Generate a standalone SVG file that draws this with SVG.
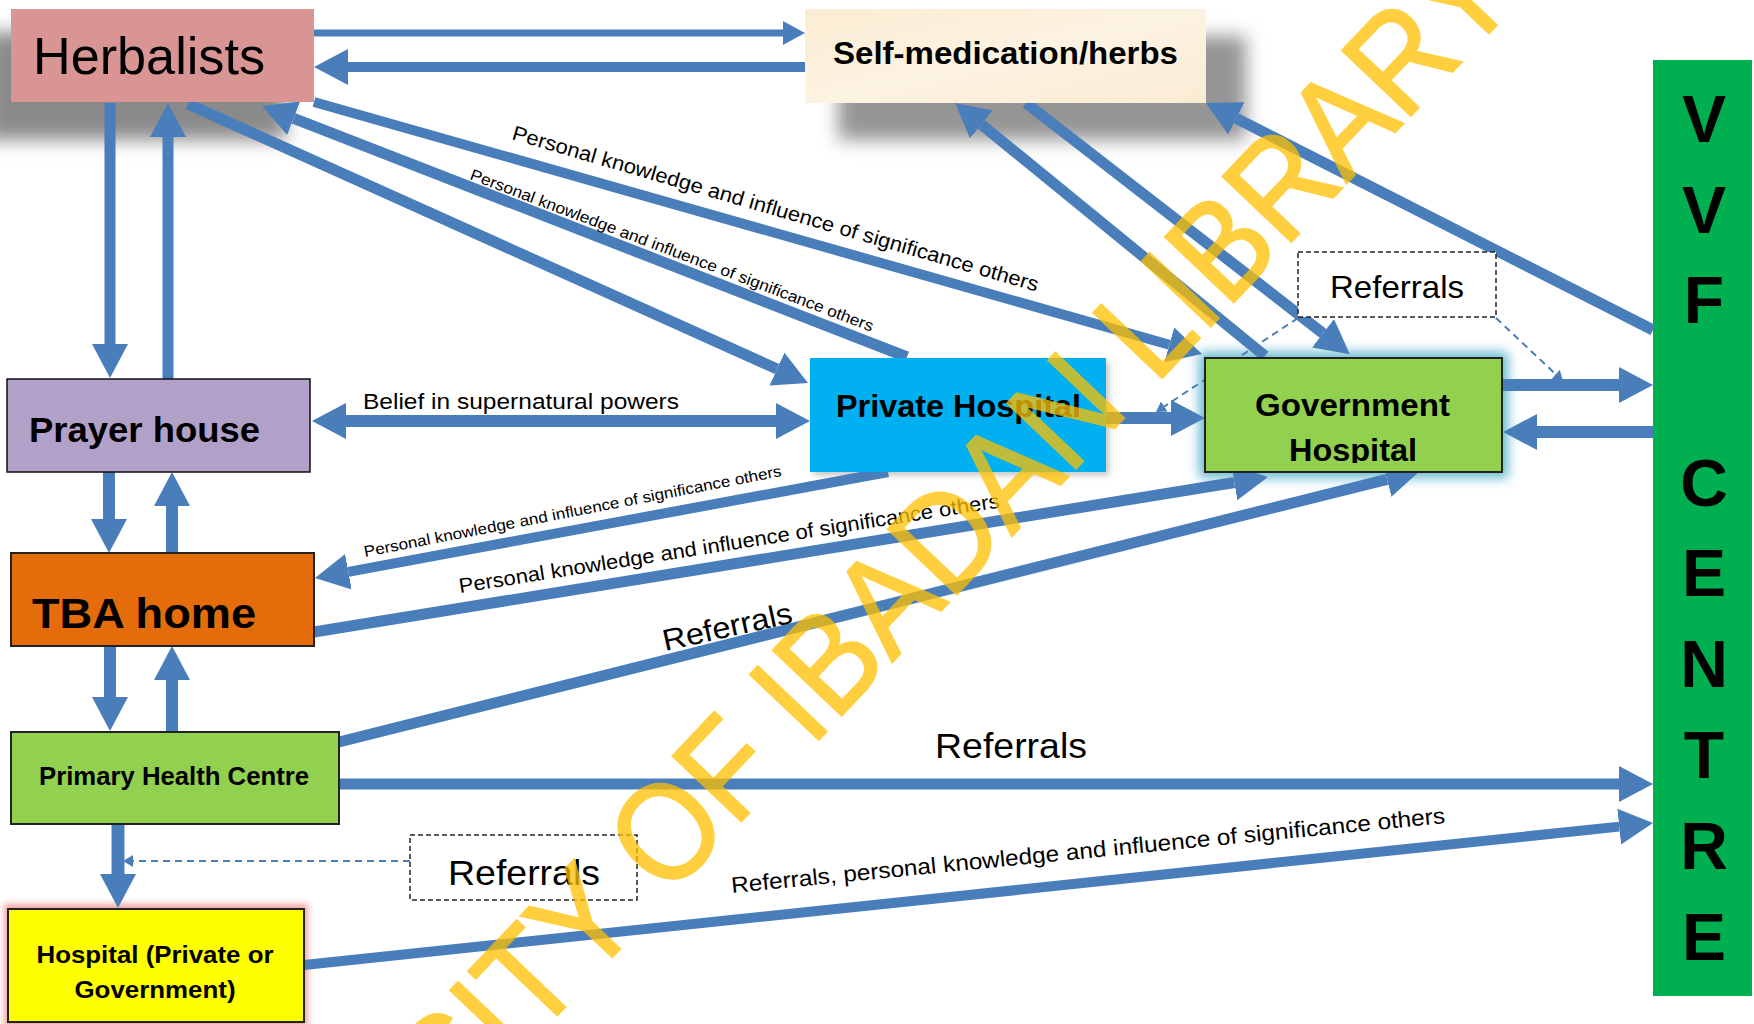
<svg xmlns="http://www.w3.org/2000/svg" width="1754" height="1024" viewBox="0 0 1754 1024">
  <defs>
    <style>
      .t { font-family: "Liberation Sans", Arial, sans-serif; fill: #000; }
      .b { font-weight: bold; }
      .ln { fill: none; stroke: #4A7EBB; stroke-linecap: butt; }
      .dash { fill: none; stroke: #4A7EBB; stroke-width: 2; stroke-dasharray: 7 5; }
      .box { stroke: #222; stroke-width: 2; }
      .vvf { font-family: "Liberation Sans", Arial, sans-serif; font-weight: bold; font-size: 66px; text-anchor: middle; fill: #000; }
    </style>
    <marker id="ah" markerUnits="userSpaceOnUse" viewBox="0 0 34 36" markerWidth="34" markerHeight="36" refX="0" refY="18" orient="auto">
      <path d="M0,0L34,18L0,36z" fill="#4A7EBB"/>
    </marker>
    <marker id="ah2" markerUnits="userSpaceOnUse" viewBox="0 0 34 36" markerWidth="34" markerHeight="36" refX="0" refY="18" orient="auto-start-reverse">
      <path d="M0,0L34,18L0,36z" fill="#4A7EBB"/>
    </marker>
    <marker id="ahS" markerUnits="userSpaceOnUse" viewBox="0 0 22 24" markerWidth="22" markerHeight="24" refX="0" refY="12" orient="auto">
      <path d="M0,0L22,12L0,24z" fill="#4A7EBB"/>
    </marker>
    <marker id="ahD" markerUnits="userSpaceOnUse" viewBox="0 0 10 12" markerWidth="10" markerHeight="12" refX="0" refY="6" orient="auto">
      <path d="M0,0L10,6L0,12z" fill="#4A7EBB"/>
    </marker>
    <filter id="blurL" x="-40%" y="-80%" width="180%" height="260%">
      <feGaussianBlur stdDeviation="9"/>
    </filter>
    <filter id="blurM" x="-20%" y="-40%" width="140%" height="180%">
      <feGaussianBlur stdDeviation="6"/>
    </filter>
    <filter id="blurS" x="-20%" y="-40%" width="140%" height="180%">
      <feGaussianBlur stdDeviation="3"/>
    </filter>
    <linearGradient id="parch" x1="0" y1="0" x2="1" y2="1">
      <stop offset="0" stop-color="#FBECD2"/>
      <stop offset="0.5" stop-color="#FDF3E2"/>
      <stop offset="1" stop-color="#FAEBD3"/>
    </linearGradient>
    <clipPath id="govClip">
      <rect x="1205" y="358" width="297" height="105"/>
    </clipPath>
  </defs>

  <rect width="1754" height="1024" fill="#fff"/>

  <!-- soft shadows and glows behind the boxes -->
  <g id="shadows">
    <rect x="-14" y="32" width="300" height="108" fill="#8a8a8a" filter="url(#blurL)"/>
    <rect x="838" y="36" width="408" height="104" fill="#959595" filter="url(#blurL)"/>
    <rect x="814" y="362" width="295" height="113" fill="#9a9a9a" opacity="0.6" filter="url(#blurS)"/>
    <rect x="1199" y="352" width="309" height="126" fill="#4BACC6" opacity="0.85" filter="url(#blurM)"/>
    <rect x="4" y="904" width="304" height="124" fill="#F08C8C" opacity="0.8" filter="url(#blurS)"/>
  </g>

  <!-- connectors -->
  <g id="connectors">
    <path class="ln" d="M314,33H783" stroke-width="7" marker-end="url(#ahS)"/>
    <path class="ln" d="M805,67H348" stroke-width="10" marker-end="url(#ah)"/>
    <path class="ln" d="M110,103V344" stroke-width="11" marker-end="url(#ah)"/>
    <path class="ln" d="M168,379V137" stroke-width="11" marker-end="url(#ah)"/>
    <path class="ln" d="M188,104L777,369" stroke-width="11" marker-end="url(#ah)"/>
    <path class="ln" d="M907,357L293.7,118.3" stroke-width="11" marker-end="url(#ah)"/>
    <path class="ln" d="M314,102L1169.3,344.8" stroke-width="10" marker-end="url(#ah)"/>
    <path class="ln" d="M1265,356L981.4,124.4" stroke-width="11" marker-end="url(#ah)"/>
    <path class="ln" d="M1026,103L1323,333.3" stroke-width="11" marker-end="url(#ah)"/>
    <path class="ln" d="M1653,330L1236.3,118.4" stroke-width="11" marker-end="url(#ah)"/>
    <path class="ln" d="M346,421H776" stroke-width="12" marker-start="url(#ah2)" marker-end="url(#ah2)"/>
    <path class="ln" d="M1106,418H1171" stroke-width="12" marker-end="url(#ah)"/>
    <path class="ln" d="M1502,385H1619" stroke-width="12" marker-end="url(#ah)"/>
    <path class="ln" d="M1653,432H1537" stroke-width="12" marker-end="url(#ah)"/>
    <path class="ln" d="M109,472V519" stroke-width="12" marker-end="url(#ah)"/>
    <path class="ln" d="M172,553V506" stroke-width="12" marker-end="url(#ah)"/>
    <path class="ln" d="M110,646V697" stroke-width="12" marker-end="url(#ah)"/>
    <path class="ln" d="M172,731V680" stroke-width="12" marker-end="url(#ah)"/>
    <path class="ln" d="M888,472L348.4,571.8" stroke-width="10" marker-end="url(#ah)"/>
    <path class="ln" d="M314,632L1234.4,482.5" stroke-width="11" marker-end="url(#ah)"/>
    <path class="ln" d="M339,742L1387,479.3" stroke-width="11" marker-end="url(#ah)"/>
    <path class="ln" d="M339,784H1619" stroke-width="11" marker-end="url(#ah)"/>
    <path class="ln" d="M304,965L1619.2,826.6" stroke-width="10" marker-end="url(#ah)"/>
    <path class="ln" d="M118,824V874" stroke-width="13" marker-end="url(#ah)"/>
    <path class="dash" d="M410,861H133" marker-end="url(#ahD)"/>
    <path class="dash" d="M1298,318L1164.3,406.5" marker-end="url(#ahD)"/>
    <path class="dash" d="M1496,318L1555.7,374.2" marker-end="url(#ahD)"/>

    <!-- connector labels -->
    <text class="t" x="363" y="409" font-size="22.5" textLength="316" lengthAdjust="spacingAndGlyphs">Belief in supernatural powers</text>
    <text class="t" transform="translate(511 139) rotate(16.2)" font-size="20.5" textLength="547" lengthAdjust="spacingAndGlyphs">Personal knowledge and influence of significance others</text>
    <text class="t" transform="translate(469 179) rotate(20.8)" font-size="16" textLength="430" lengthAdjust="spacingAndGlyphs">Personal knowledge and influence of significance others</text>
    <text class="t" transform="translate(365 557) rotate(-11)" font-size="15.5" textLength="425" lengthAdjust="spacingAndGlyphs">Personal knowledge and influence of significance others</text>
    <text class="t" transform="translate(460 593) rotate(-9)" font-size="20.5" textLength="547" lengthAdjust="spacingAndGlyphs">Personal knowledge and influence of significance others</text>
    <text class="t" transform="translate(665 651) rotate(-12.5)" font-size="30" textLength="132" lengthAdjust="spacingAndGlyphs">Referrals</text>
    <text class="t" x="935" y="758" font-size="35" textLength="152" lengthAdjust="spacingAndGlyphs">Referrals</text>
    <text class="t" transform="translate(732 893) rotate(-5.6)" font-size="22.5" textLength="717" lengthAdjust="spacingAndGlyphs">Referrals, personal knowledge and influence of significance others</text>
  </g>

  <!-- nodes -->
  <g id="herbalists">
    <rect x="11" y="9" width="303" height="93" fill="#D99594"/>
    <text class="t" x="33" y="74" font-size="52" textLength="232" lengthAdjust="spacingAndGlyphs">Herbalists</text>
  </g>
  <g id="self-medication">
    <rect x="805" y="9" width="401" height="94" fill="url(#parch)"/>
    <text class="t b" x="1005.5" y="64" font-size="31" text-anchor="middle" textLength="345" lengthAdjust="spacingAndGlyphs">Self-medication/herbs</text>
  </g>
  <g id="prayer-house">
    <rect x="7" y="379" width="303" height="93" fill="#B1A0C7" stroke="#111" stroke-width="1.5"/>
    <text class="t b" x="29" y="442" font-size="35" textLength="231" lengthAdjust="spacingAndGlyphs">Prayer house</text>
  </g>
  <g id="private-hospital">
    <rect x="810" y="358" width="296" height="114" fill="#00B0F0"/>
    <text class="t b" x="836" y="417" font-size="31" textLength="245" lengthAdjust="spacingAndGlyphs">Private Hospital</text>
  </g>
  <g id="government-hospital">
    <rect class="box" x="1205" y="358" width="297" height="114" fill="#92D050"/>
    <text class="t b" x="1255" y="416" font-size="31" textLength="195" lengthAdjust="spacingAndGlyphs">Government</text>
    <text class="t b" x="1289" y="461" font-size="31" textLength="128" lengthAdjust="spacingAndGlyphs" clip-path="url(#govClip)">Hospital</text>
  </g>
  <g id="tba-home">
    <rect class="box" x="11" y="553" width="303" height="93" fill="#E46C0A"/>
    <text class="t b" x="32" y="628" font-size="43" textLength="224" lengthAdjust="spacingAndGlyphs">TBA home</text>
  </g>
  <g id="primary-health-centre">
    <rect class="box" x="11" y="732" width="328" height="92" fill="#92D050"/>
    <text class="t b" x="39" y="785" font-size="25" textLength="270" lengthAdjust="spacingAndGlyphs">Primary Health Centre</text>
  </g>
  <g id="hospital-private-government">
    <rect class="box" x="8" y="909" width="296" height="113" fill="#FFFF00"/>
    <text class="t b" x="155" y="963" font-size="24" text-anchor="middle" textLength="237" lengthAdjust="spacingAndGlyphs">Hospital (Private or</text>
    <text class="t b" x="155" y="998" font-size="24" text-anchor="middle" textLength="161" lengthAdjust="spacingAndGlyphs">Government)</text>
  </g>
  <g id="referrals-top">
    <rect x="1298" y="252" width="198" height="65" fill="#fff" stroke="#222" stroke-width="1.5" stroke-dasharray="5 3"/>
    <text class="t" x="1330" y="298" font-size="32" textLength="134" lengthAdjust="spacingAndGlyphs">Referrals</text>
  </g>
  <g id="referrals-bottom">
    <rect x="410" y="835" width="227" height="65" fill="#fff" stroke="#222" stroke-width="1.5" stroke-dasharray="5 3"/>
    <text class="t" x="448" y="885" font-size="35" textLength="152" lengthAdjust="spacingAndGlyphs">Referrals</text>
  </g>
  <g id="vvf-centre">
    <rect x="1653" y="60" width="99" height="936" fill="#00B050"/>
    <text class="vvf" x="1704" y="142">V</text>
    <text class="vvf" x="1704" y="233">V</text>
    <text class="vvf" x="1704" y="323">F</text>
    <text class="vvf" x="1704" y="506">C</text>
    <text class="vvf" x="1704" y="596">E</text>
    <text class="vvf" x="1704" y="687">N</text>
    <text class="vvf" x="1704" y="778">T</text>
    <text class="vvf" x="1704" y="869">R</text>
    <text class="vvf" x="1704" y="960">E</text>
  </g>

  <!-- library watermark across the sheet (narrowed type, tall glyphs) -->
  <g id="watermark" opacity="0.75">
    <text transform="translate(666 828) rotate(-46.5) scale(0.906 1)" x="-920" y="50" font-family="'Liberation Sans', Arial, sans-serif" font-size="138" fill="#FFC000" stroke="#FFC000" stroke-width="2">UNIVERSITY OF IBADAN LIBRARY</text>
  </g>
</svg>
